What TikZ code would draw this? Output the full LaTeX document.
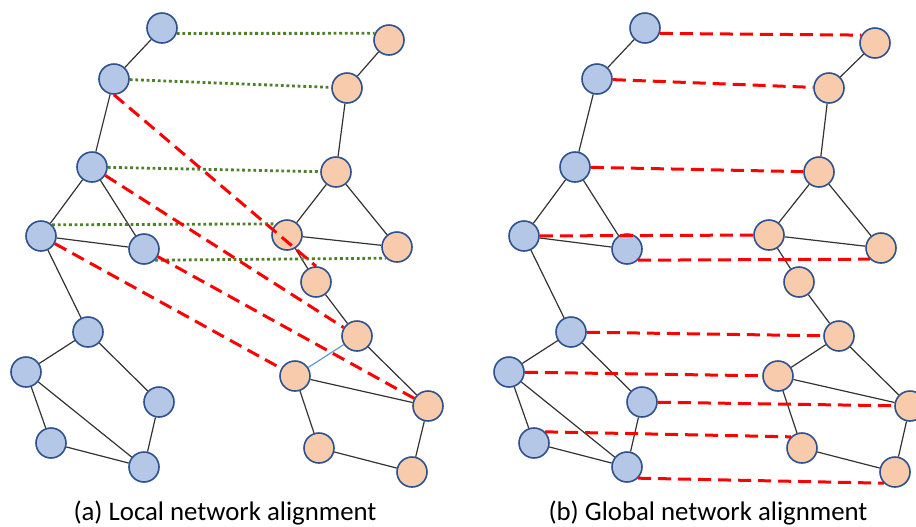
\documentclass[tikz,border=0pt]{standalone}
\usepackage{fontspec}
\setmainfont{Carlito}
\definecolor{nodeblue}{HTML}{B4C7E7}
\definecolor{nodeorange}{HTML}{F8CBAD}
\definecolor{rimblue}{HTML}{2F528F}
\definecolor{dotgreen}{HTML}{4F7F2A}
\definecolor{thinblue}{HTML}{5B9BD5}

\begin{document}
\begin{tikzpicture}[x=.5pt, y=-.5pt, minimum size=15pt, inner sep=0pt,
  netA/.style={circle, draw=rimblue, fill=nodeblue, line width=.8pt},
  netB/.style={circle, draw=rimblue, fill=nodeorange, line width=.8pt},
  link/.style={draw=black!80, line width=.6pt},
  local match/.style={dotgreen, line width=1.4pt, dash pattern=on 1.4pt off 1.4pt},
  global match/.style={red, line width=1.5pt, dash pattern=on 6.5pt off 3.5pt},
  caption/.style={font=\fontsize{13.4}{16}\selectfont}]
  \useasboundingbox (0,0) rectangle (916,526);

  % (a) local alignment
  \node[netA] (la1) at (162,28) {};
  \node[netA] (la2) at (114,79) {};
  \node[netA] (la3) at (92,167) {};
  \node[netA] (la4) at (41,236) {};
  \node[netA] (la5) at (144,249) {};
  \node[netA] (la6) at (88,332) {};
  \node[netA] (la7) at (26,372) {};
  \node[netA] (la8) at (159,402) {};
  \node[netA] (la9) at (51,443) {};
  \node[netA] (la10) at (144,467) {};

  \node[netB] (lb1) at (389,40) {};
  \node[netB] (lb2) at (347,88) {};
  \node[netB] (lb3) at (336,172) {};
  \node[netB] (lb4) at (287,235) {};
  \node[netB] (lb5) at (397,247) {};
  \node[netB] (lb6) at (316,282) {};
  \node[netB] (lb7) at (357,336) {};
  \node[netB] (lb8) at (295,376) {};
  \node[netB] (lb9) at (428,406) {};
  \node[netB] (lb10) at (319,448) {};
  \node[netB] (lb11) at (412,472) {};

  \draw[link] (la1)--(la2) (la2)--(la3) (la3)--(la4) (la3)--(la5) (la4)--(la5)
    (la4)--(la6) (la6)--(la7) (la6)--(la8) (la7)--(la9) (la7)--(la10)
    (la9)--(la10) (la8)--(la10);
  \draw[link] (lb1)--(lb2) (lb2)--(lb3) (lb3)--(lb4) (lb3)--(lb5) (lb4)--(lb5)
    (lb4)--(lb6) (lb6)--(lb7) (lb7)--(lb9) (lb8)--(lb9) (lb8)--(lb10)
    (lb10)--(lb11) (lb9)--(lb11);
  \draw[thinblue, line width=.6pt] (lb7)--(lb8);

  \draw[local match] (la1.-20)--(lb1.155);
  \draw[local match] (la2)--(lb2);
  \draw[local match] (la3)--(lb3);
  \draw[local match] (la4.north east)--(lb4.north west);
  \draw[local match] (la5.south east)--(lb5.south west);

  \draw[global match] (la2.south)--(lb6.north);
  \draw[global match] (la3)--(lb7);
  \draw[global match] (la4)--(lb8);
  \draw[global match] (la5)--(lb9);

  \node[caption] (capA) at (225,513) {(a) Local network alignment};

  % (b) global alignment
  \begin{scope}[xshift=241.5pt]
    \node[netA] (ga1) at (162,28) {};
    \node[netA] (ga2) at (114,79) {};
    \node[netA] (ga3) at (92,167) {};
    \node[netA] (ga4) at (41,236) {};
    \node[netA] (ga5) at (144,249) {};
    \node[netA] (ga6) at (88,332) {};
    \node[netA] (ga7) at (26,372) {};
    \node[netA] (ga8) at (159,402) {};
    \node[netA] (ga9) at (51,443) {};
    \node[netA] (ga10) at (144,467) {};

    \node[netB] (gb1) at (392,43) {};
    \node[netB] (gb2) at (346,88) {};
    \node[netB] (gb3) at (336,172) {};
    \node[netB] (gb4) at (286,235) {};
    \node[netB] (gb5) at (398,248) {};
    \node[netB] (gb6) at (316,282) {};
    \node[netB] (gb7) at (356,336) {};
    \node[netB] (gb8) at (295,376) {};
    \node[netB] (gb9) at (427,406) {};
    \node[netB] (gb10) at (319,448) {};
    \node[netB] (gb11) at (412,472) {};

    \draw[link] (ga1)--(ga2) (ga2)--(ga3) (ga3)--(ga4) (ga3)--(ga5) (ga4)--(ga5)
      (ga4)--(ga6) (ga6)--(ga7) (ga6)--(ga8) (ga7)--(ga9) (ga7)--(ga10)
      (ga9)--(ga10) (ga8)--(ga10);
    \draw[link] (gb1)--(gb2) (gb2)--(gb3) (gb3)--(gb4) (gb3)--(gb5) (gb4)--(gb5)
      (gb4)--(gb6) (gb6)--(gb7) (gb7)--(gb8) (gb7)--(gb9) (gb8)--(gb9)
      (gb8)--(gb10) (gb10)--(gb11) (gb9)--(gb11);

    \draw[global match] (ga1.-20)--(gb1.150);
    \draw[global match] (ga2)--(gb2);
    \draw[global match] (ga3)--(gb3);
    \draw[global match] (ga4)--(gb4);
    \draw[global match] (ga5.south east)--(gb5.south west);
    \draw[global match] (ga6)--(gb7);
    \draw[global match] (ga7)--(gb8);
    \draw[global match] (ga8)--(gb9);
    \draw[global match] (ga9.north east)--(gb10.north west);
    \draw[global match] (ga10.south east)--(gb11.south west);

    \node[caption] (capB) at (225,513) {(b) Global network alignment};
  \end{scope}
\end{tikzpicture}
\end{document}
